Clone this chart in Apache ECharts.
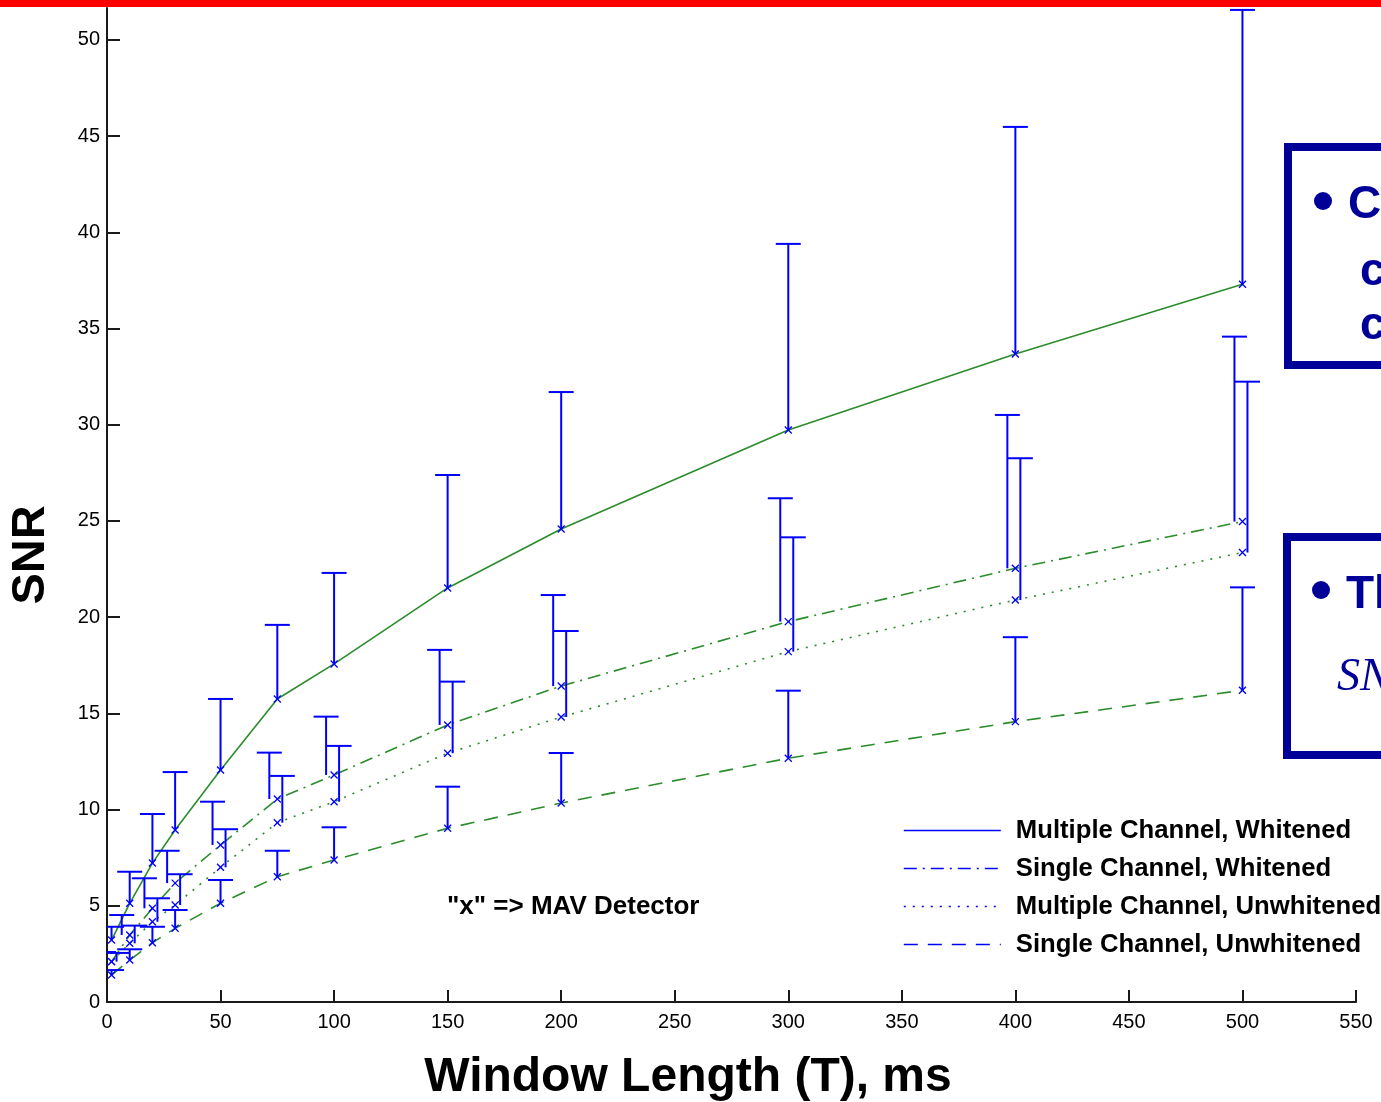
<!DOCTYPE html>
<html>
<head>
<meta charset="utf-8">
<script src="https://cdn.jsdelivr.net/npm/echarts@6/dist/echarts.min.js"></script>
<style>
html,body{margin:0;padding:0;background:#ffffff;}
#chart{width:1381px;height:1102px;}
</style>
</head>
<body>
<div id="chart"></div>
<script>
// ---- data ----
const windowLengths = [2, 10, 20, 30, 50, 75, 100, 150, 200, 300, 400, 500];

const mcWhitened        = [3.22, 5.13, 7.22, 8.94, 12.06, 15.75, 17.57, 21.52, 24.58, 29.73, 33.68, 37.30];
const mcWhitenedUpper   = [3.91, 6.77, 9.77, 11.95, 15.75, 19.60, 22.30, 27.39, 31.70, 39.40, 45.48, 51.56];

const scWhitened        = [2.10, 3.48, 4.87, 6.18, 8.16, 10.55, 11.80, 14.40, 16.42, 19.77, 22.54, 24.97];
const scWhitenedUpper   = [2.60, 4.52, 6.43, 7.86, 10.41, 12.96, 14.83, 18.30, 21.15, 26.18, 30.51, 34.58];

const mcUnwhitened      = [2.10, 3.05, 4.17, 5.04, 7.00, 9.32, 10.41, 12.93, 14.81, 18.21, 20.89, 23.36];
const mcUnwhitenedUpper = [2.55, 3.97, 5.39, 6.64, 8.98, 11.75, 13.31, 16.65, 19.28, 24.15, 28.26, 32.24];

const scUnwhitened      = [1.40, 2.18, 3.08, 3.83, 5.13, 6.51, 7.38, 9.03, 10.34, 12.67, 14.57, 16.20];
const scUnwhitenedUpper = [1.66, 2.74, 3.91, 4.78, 6.34, 7.86, 9.08, 11.19, 12.94, 16.18, 18.96, 21.55];

const seriesNames = [
  'Multiple Channel, Whitened',
  'Single Channel, Whitened',
  'Multiple Channel, Unwhitened',
  'Single Channel, Unwhitened'
];
const xTicks = [0, 50, 100, 150, 200, 250, 300, 350, 400, 450, 500, 550];
const yTicks = [0, 5, 10, 15, 20, 25, 30, 35, 40, 45, 50];
const noteText = '"x" => MAV Detector';
const xTitle = 'Window Length (T), ms';
const yTitle = 'SNR';

// ---- styles ----
const GREEN = '#2a8c2a';
const BLUE = '#0000ff';
const NAVY = '#000099';
const dashTypes = ['solid', [13, 6, 2, 6], [2, 7], [14, 10]];
const barOffsets = [0, -8, 5, 0];

function pairs(xs, ys) { return xs.map((x, i) => [x, ys[i]]); }
function triples(xs, ys, us) { return xs.map((x, i) => [x, ys[i], us[i]]); }

function makeRender(off) {
  return function (params, api) {
    const x = api.value(0), m = api.value(1), u = api.value(2);
    const pm = api.coord([x, m]);
    const pu = api.coord([x, u]);
    const bx = pm[0] + off;
    const s = 3.5;
    const st = { stroke: BLUE, lineWidth: 2 };
    const mk = { stroke: BLUE, lineWidth: 1.3 };
    return {
      type: 'group',
      children: [
        { type: 'line', shape: { x1: bx, y1: pm[1], x2: bx, y2: pu[1] }, style: st },
        { type: 'line', shape: { x1: bx - 12.5, y1: pu[1], x2: bx + 12.5, y2: pu[1] }, style: st },
        { type: 'line', shape: { x1: pm[0] - s, y1: pm[1] - s, x2: pm[0] + s, y2: pm[1] + s }, style: mk },
        { type: 'line', shape: { x1: pm[0] - s, y1: pm[1] + s, x2: pm[0] + s, y2: pm[1] - s }, style: mk }
      ]
    };
  };
}

const means = [mcWhitened, scWhitened, mcUnwhitened, scUnwhitened];
const uppers = [mcWhitenedUpper, scWhitenedUpper, mcUnwhitenedUpper, scUnwhitenedUpper];

const series = [];
seriesNames.forEach((name, i) => {
  series.push({
    name: name,
    type: 'line',
    data: pairs(windowLengths, means[i]),
    symbol: 'none',
    smooth: false,
    z: 2,
    lineStyle: { color: GREEN, width: 1.6, type: dashTypes[i] },
    itemStyle: { color: GREEN },
    emphasis: { disabled: true },
    animation: false
  });
});
seriesNames.forEach((name, i) => {
  series.push({
    name: name + ' (MAV)',
    type: 'custom',
    data: triples(windowLengths, means[i], uppers[i]),
    encode: { x: 0, y: [1, 2] },
    renderItem: makeRender(barOffsets[i]),
    clip: true,
    z: 3,
    animation: false
  });
});

const chart = echarts.init(document.getElementById('chart'), null, { renderer: 'canvas' });
chart.setOption({
  backgroundColor: '#ffffff',
  animation: false,
  grid: { left: 107, right: 25, top: 8, bottom: 100, containLabel: false },
  xAxis: {
    type: 'value',
    min: 0, max: 550, interval: 50,
    axisLine: { show: true, lineStyle: { color: '#1a1a1a', width: 2 } },
    axisTick: { show: true, inside: true, length: 12, lineStyle: { color: '#1a1a1a', width: 2 } },
    axisLabel: { show: true, margin: 10, color: '#000', fontSize: 20, fontFamily: 'Liberation Sans, Arial, sans-serif',
      customValues: xTicks },
    splitLine: { show: false }
  },
  yAxis: {
    type: 'value',
    min: 0, max: 51.66,
    axisLine: { show: true, onZero: false, lineStyle: { color: '#1a1a1a', width: 2 } },
    axisTick: { show: true, inside: true, length: 13, lineStyle: { color: '#1a1a1a', width: 2 }, customValues: yTicks },
    axisLabel: { show: true, margin: 7, color: '#000', fontSize: 20, fontFamily: 'Liberation Sans, Arial, sans-serif',
      customValues: yTicks },
    splitLine: { show: false }
  },
  legend: {
    show: true,
    orient: 'vertical',
    left: 898,
    top: 812,
    itemWidth: 97,
    itemHeight: 14,
    itemGap: 11,
    selectedMode: false,
    data: seriesNames.map((n, i) => ({ name: n, lineStyle: { color: BLUE, width: 1.6, type: dashTypes[i] } })),
    lineStyle: { color: BLUE, width: 1.6 },
    itemStyle: { color: 'rgba(0,0,0,0)', borderWidth: 0 },
    textStyle: { color: '#000', fontSize: 25.7, fontWeight: 'bold', fontFamily: 'Liberation Sans, Arial, sans-serif',
      lineHeight: 27, padding: [0, 0, 0, 10] }
  },
  graphic: [
    { type: 'rect', left: 0, top: 0, shape: { width: 1381, height: 7 }, style: { fill: '#ff0000' }, z: 10 },
    { type: 'text', x: 31, y: 555, rotation: Math.PI / 2,
      style: { text: yTitle, fill: '#000', font: 'bold 47px "Liberation Sans", Arial, sans-serif', align: 'center', verticalAlign: 'middle' } },
    { type: 'text', x: 688, y: 1078,
      style: { text: xTitle, fill: '#000', font: 'bold 48px "Liberation Sans", Arial, sans-serif', align: 'center', verticalAlign: 'middle' } },
    { type: 'text', x: 447, y: 907,
      style: { text: noteText, fill: '#000', font: 'bold 26px "Liberation Sans", Arial, sans-serif', align: 'left', verticalAlign: 'middle' } },
    // right-hand slide boxes (cut off by the page edge)
    { type: 'rect', shape: { x: 1288, y: 147, width: 200, height: 218 }, style: { fill: '#ffffff', stroke: NAVY, lineWidth: 8 } },
    { type: 'circle', shape: { cx: 1323, cy: 201, r: 9 }, style: { fill: NAVY } },
    { type: 'text', x: 1348, y: 205, style: { text: 'C', fill: NAVY, font: 'bold 46px "Liberation Sans", Arial, sans-serif', verticalAlign: 'middle' } },
    { type: 'text', x: 1360, y: 272, style: { text: 'c', fill: NAVY, font: 'bold 46px "Liberation Sans", Arial, sans-serif', verticalAlign: 'middle' } },
    { type: 'text', x: 1360, y: 326, style: { text: 'c', fill: NAVY, font: 'bold 46px "Liberation Sans", Arial, sans-serif', verticalAlign: 'middle' } },
    { type: 'rect', shape: { x: 1287, y: 537, width: 200, height: 218 }, style: { fill: '#ffffff', stroke: NAVY, lineWidth: 8 } },
    { type: 'circle', shape: { cx: 1321, cy: 590, r: 9 }, style: { fill: NAVY } },
    { type: 'text', x: 1346, y: 595, style: { text: 'Th', fill: NAVY, font: 'bold 46px "Liberation Sans", Arial, sans-serif', verticalAlign: 'middle' } },
    { type: 'text', x: 1337, y: 678, style: { text: 'SN', fill: NAVY, font: 'italic 46px "Liberation Serif", "Times New Roman", serif', verticalAlign: 'middle' } }
  ],
  series: series
});
</script>
</body>
</html>
